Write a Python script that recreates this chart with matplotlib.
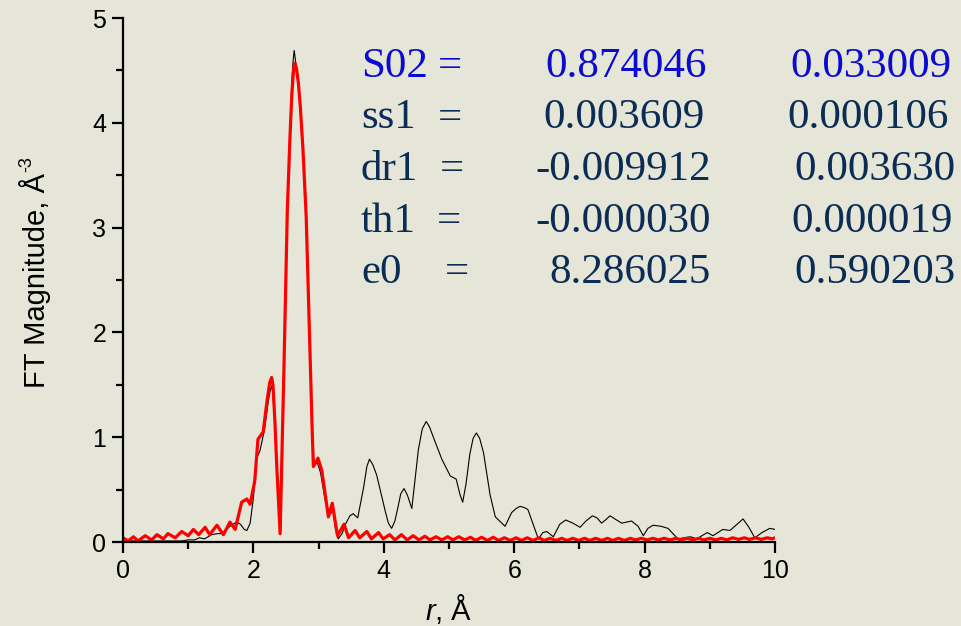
import numpy as np
import matplotlib
matplotlib.use("Agg")
import matplotlib.pyplot as plt

r_data = [0.00, 0.30, 0.60, 0.90, 1.00, 1.10, 1.17, 1.25, 1.36, 1.45,
          1.52, 1.64, 1.74, 1.80, 1.86, 1.90, 1.95, 2.00, 2.05, 2.10,
          2.17, 2.23, 2.26, 2.28, 2.30, 2.33, 2.36, 2.41, 2.44, 2.47,
          2.52, 2.56, 2.59, 2.61, 2.625, 2.645, 2.67, 2.72, 2.76, 2.81,
          2.85, 2.87, 2.90, 2.93, 2.98, 3.03, 3.10, 3.17, 3.22, 3.26,
          3.30, 3.36, 3.42, 3.48, 3.53, 3.60, 3.69, 3.74, 3.78, 3.83,
          3.89, 4.02, 4.07, 4.12, 4.17, 4.22, 4.26, 4.31, 4.36, 4.43,
          4.53, 4.59, 4.65, 4.70, 4.76, 4.89, 5.02, 5.11, 5.17, 5.21,
          5.26, 5.32, 5.37, 5.42, 5.47, 5.53, 5.63, 5.71, 5.86, 5.96,
          6.03, 6.09, 6.15, 6.21, 6.29, 6.37, 6.44, 6.50, 6.60, 6.70,
          6.79, 6.90, 7.01, 7.10, 7.20, 7.27, 7.34, 7.40, 7.47, 7.57,
          7.65, 7.80, 7.90, 7.98, 8.05, 8.13, 8.25, 8.36, 8.51, 8.70,
          8.80, 8.96, 9.05, 9.20, 9.31, 9.42, 9.51, 9.60, 9.69, 9.80,
          9.92, 10.0]
ft_data = [0.01, 0.01, 0.01, 0.01, 0.02, 0.02, 0.04, 0.03, 0.07, 0.08,
           0.08, 0.15, 0.19, 0.17, 0.12, 0.11, 0.18, 0.42, 0.80, 0.87,
           1.07, 1.35, 1.45, 1.49, 1.42, 1.10, 0.70, 0.10, 0.90, 1.70,
           3.20, 3.90, 4.40, 4.60, 4.69, 4.60, 4.45, 4.15, 3.75, 3.10,
           2.20, 1.70, 1.10, 0.74, 0.76, 0.66, 0.40, 0.26, 0.30, 0.12,
           0.03, 0.08, 0.18, 0.25, 0.27, 0.23, 0.52, 0.72, 0.79, 0.74,
           0.64, 0.30, 0.18, 0.13, 0.20, 0.34, 0.46, 0.51, 0.45, 0.32,
           0.88, 1.08, 1.15, 1.10, 1.00, 0.79, 0.63, 0.60, 0.45, 0.38,
           0.55, 0.84, 0.99, 1.04, 0.99, 0.85, 0.45, 0.24, 0.15, 0.28,
           0.32, 0.34, 0.33, 0.31, 0.17, 0.03, 0.09, 0.10, 0.05, 0.17,
           0.21, 0.18, 0.14, 0.20, 0.25, 0.23, 0.18, 0.21, 0.25, 0.21,
           0.18, 0.20, 0.15, 0.06, 0.13, 0.16, 0.15, 0.13, 0.03, 0.05,
           0.03, 0.09, 0.06, 0.12, 0.11, 0.17, 0.22, 0.14, 0.04, 0.09,
           0.13, 0.12]

r_fit = [0.00, 0.08, 0.16, 0.23, 0.34, 0.44, 0.52, 0.62, 0.69, 0.80,
         0.90, 1.00, 1.08, 1.16, 1.26, 1.33, 1.44, 1.54, 1.64, 1.72,
         1.82, 1.90, 1.95, 2.02, 2.07, 2.15, 2.21, 2.25, 2.28, 2.30,
         2.33, 2.36, 2.41, 2.44, 2.47, 2.52, 2.56, 2.59, 2.615, 2.635,
         2.66, 2.69, 2.72, 2.76, 2.81, 2.85, 2.87, 2.90, 2.92, 2.96,
         2.99, 3.05, 3.15, 3.21, 3.29, 3.39, 3.46, 3.56, 3.63, 3.74,
         3.81, 3.92, 3.99, 4.09, 4.17, 4.27, 4.36, 4.45,
         4.54, 4.63, 4.71, 4.80, 4.89, 4.98, 5.06, 5.15, 5.24, 5.33,
         5.41, 5.50, 5.59, 5.68, 5.76, 5.85, 5.94, 6.03, 6.11, 6.20,
         6.29, 6.38, 6.46, 6.55, 6.64, 6.73, 6.81, 6.90, 6.99, 7.08,
         7.16, 7.25, 7.34, 7.43, 7.51, 7.60, 7.69, 7.78, 7.86, 7.95,
         8.04, 8.13, 8.21, 8.30, 8.39, 8.48, 8.56, 8.65, 8.74, 8.83,
         8.91, 9.00, 9.09, 9.18, 9.26, 9.35, 9.44, 9.53, 9.61, 9.70,
         9.79, 9.88, 9.96, 10.0]
ft_fit = [0.04, 0.01, 0.05, 0.01, 0.06, 0.02, 0.07, 0.03, 0.08, 0.04,
          0.10, 0.06, 0.12, 0.07, 0.14, 0.07, 0.16, 0.07, 0.19, 0.12,
          0.38, 0.41, 0.36, 0.58, 0.98, 1.05, 1.35, 1.52, 1.57, 1.50,
          1.15, 0.70, 0.08, 0.90, 1.70, 3.16, 3.85, 4.28, 4.50, 4.57,
          4.52, 4.38, 4.15, 3.75, 3.10, 2.20, 1.73, 1.10, 0.72, 0.76,
          0.80, 0.68, 0.24, 0.37, 0.06, 0.17, 0.04, 0.11, 0.04, 0.10,
          0.03, 0.09, 0.03, 0.07, 0.02, 0.07, 0.02, 0.06,
          0.02, 0.055, 0.02, 0.05, 0.02, 0.05, 0.02, 0.05, 0.02, 0.045,
          0.015, 0.045, 0.015, 0.045, 0.015, 0.04, 0.015, 0.04, 0.015, 0.04,
          0.015, 0.04, 0.015, 0.035, 0.015, 0.035, 0.015, 0.035, 0.015, 0.035,
          0.015, 0.035, 0.015, 0.035, 0.015, 0.035, 0.015, 0.035, 0.02, 0.035,
          0.02, 0.035, 0.02, 0.035, 0.02, 0.035, 0.02, 0.035, 0.02, 0.035,
          0.02, 0.035, 0.02, 0.035, 0.02, 0.04, 0.025, 0.04, 0.025, 0.04,
          0.025, 0.04, 0.03, 0.04]

# fit parameters: name, value, error
par_names = ['S02', 'ss1', 'dr1', 'th1', 'e0']
par_values = ['0.874046', '0.003609', '-0.009912', '-0.000030', '8.286025']
par_errors = ['0.033009', '0.000106', '0.003630', '0.000019', '0.590203']

plt.rcParams['font.family'] = ['Liberation Sans', 'DejaVu Sans']
plt.rcParams['mathtext.fontset'] = 'custom'
plt.rcParams['mathtext.rm'] = 'Liberation Sans'
plt.rcParams['mathtext.it'] = 'Liberation Sans:italic'

W, H = 961, 626
bg = '#e5e5d8'
fig = plt.figure(figsize=(W / 100, H / 100), dpi=100, facecolor=bg)
ax = fig.add_axes([123 / W, 1 - 542 / H, (775 - 123) / W, (542 - 18) / H])
ax.set_facecolor(bg)

ax.plot(r_data, ft_data, color='black', lw=0.8)
ax.plot(r_fit, ft_fit, color='#ff0000', lw=2.3, solid_joinstyle='round')

ax.set_xlim(0, 10)
ax.set_ylim(0, 5)
ax.set_xticks(np.arange(0, 11, 2))
ax.set_xticks(np.arange(1, 10, 2), minor=True)
ax.set_yticks(np.arange(0, 6, 1))
ax.set_yticks(np.arange(0.5, 5, 1), minor=True)

for s in ['top', 'right']:
    ax.spines[s].set_visible(False)
for s in ['left', 'bottom']:
    ax.spines[s].set_linewidth(1.6)
    ax.spines[s].set_clip_on(False)
ax.tick_params(which='major', direction='out', length=8, width=1.6, labelsize=18, pad=4)
ax.tick_params(which='minor', direction='out', length=5, width=1.6)

ax.set_xlabel('$\\mathit{r}$, Å', fontsize=21, labelpad=7)
ax.set_ylabel('FT Magnitude, Å', fontsize=21, labelpad=30)

# short hyphen superscript after the Angstrom sign
fig.canvas.draw()
bb = ax.yaxis.label.get_window_extent()
fig.text(bb.x0 / W, (bb.y1 + 1) / H, '-3', rotation=90, fontsize=13,
         ha='left', va='bottom')

# parameter table in serif, placed in pixel coordinates
blue = '#0a0ad0'
navy = '#0a2c55'
baselines = [77, 128.5, 180, 231.5, 283]
eq_x = [438, 438, 440, 437, 445]
val_right = [707, 705, 711, 711, 711]
err_right = [951, 949, 955, 953, 956]
for i in range(len(par_names)):
    c = blue if i == 0 else navy
    y = 1 - baselines[i] / H
    kw = dict(fontsize=31, family='Liberation Serif', color=c, va='baseline')
    fig.text(361 / W, y, par_names[i], ha='left', **kw)
    fig.text(eq_x[i] / W, y, '=', ha='left', **kw)
    fig.text(val_right[i] / W, y, par_values[i], ha='right', **kw)
    fig.text(err_right[i] / W, y, par_errors[i], ha='right', **kw)

fig.savefig('out.png', dpi=100, facecolor=bg)
